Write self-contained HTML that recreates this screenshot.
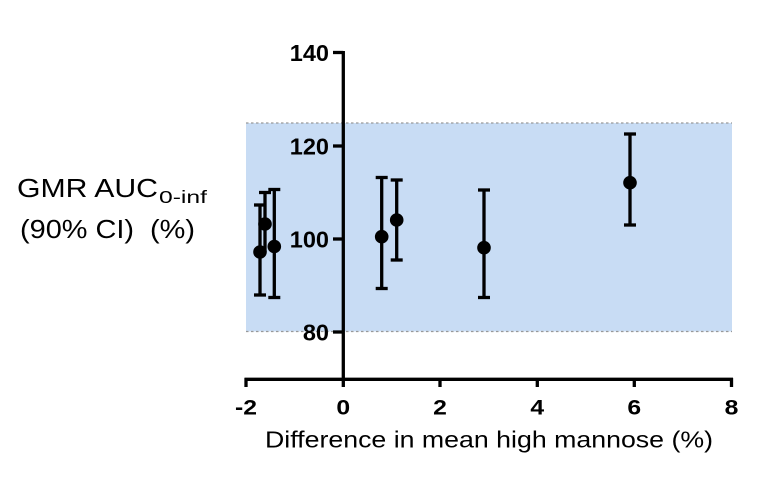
<!DOCTYPE html>
<html><head><meta charset="utf-8"><style>
html,body{margin:0;padding:0;background:#fff;}
svg{display:block;}
text{font-family:"Liberation Sans",Arial,sans-serif;fill:#000;}
</style></head><body>
<svg width="770" height="481" viewBox="0 0 770 481" xmlns="http://www.w3.org/2000/svg">
<rect x="0" y="0" width="770" height="481" fill="#fff"/>
<!-- band -->
<rect x="246" y="123" width="486" height="208.5" fill="#c8dcf4"/>
<line x1="246" y1="123" x2="732" y2="123" stroke="#999" stroke-width="1.3" stroke-dasharray="2.5,2.5"/>
<line x1="246" y1="331.5" x2="732" y2="331.5" stroke="#999" stroke-width="1.3" stroke-dasharray="2.5,2.5"/>
<!-- axes -->
<g stroke="#000" stroke-width="3.3" fill="none">
<line x1="343.3" y1="51" x2="343.3" y2="387"/>
<line x1="244.5" y1="379.3" x2="733" y2="379.3"/>
<!-- y ticks -->
<line x1="333" y1="52.5" x2="343.3" y2="52.5"/>
<line x1="333" y1="146" x2="343.3" y2="146"/>
<line x1="333" y1="239" x2="343.3" y2="239"/>
<line x1="333" y1="332" x2="343.3" y2="332"/>
<!-- x ticks -->
<line x1="246" y1="378" x2="246" y2="387"/>
<line x1="440" y1="378" x2="440" y2="387"/>
<line x1="537.3" y1="378" x2="537.3" y2="387"/>
<line x1="634.3" y1="378" x2="634.3" y2="387"/>
<line x1="731.5" y1="378" x2="731.5" y2="387"/>
</g>
<!-- y tick labels -->
<g font-size="23.5" font-weight="bold" text-anchor="end">
<text x="329" y="61">140</text>
<text x="329" y="154.5">120</text>
<text x="329" y="247.5">100</text>
<text x="329" y="340.5">80</text>
</g>
<!-- x tick labels -->
<g font-size="21.5" font-weight="bold" text-anchor="middle">
<text transform="translate(246,414.5) scale(1.15,1)">-2</text>
<text transform="translate(343.3,414.5) scale(1.15,1)">0</text>
<text transform="translate(440,414.5) scale(1.15,1)">2</text>
<text transform="translate(537.3,414.5) scale(1.15,1)">4</text>
<text transform="translate(634.3,414.5) scale(1.15,1)">6</text>
<text transform="translate(731.5,414.5) scale(1.15,1)">8</text>
</g>
<!-- axis titles -->
<text x="265" y="447.5" font-size="23" textLength="448" lengthAdjust="spacingAndGlyphs">Difference in mean high mannose (%)</text>
<text x="17" y="197" font-size="26" textLength="141" lengthAdjust="spacingAndGlyphs">GMR AUC</text>
<text x="159" y="203" font-size="17.5" textLength="48" lengthAdjust="spacingAndGlyphs">0-inf</text>
<text x="20" y="238" font-size="26" textLength="175" lengthAdjust="spacingAndGlyphs" xml:space="preserve">(90% CI)  (%)</text>
<!-- data -->
<g stroke="#000" stroke-width="3.3" fill="none">
<line x1="260" y1="205" x2="260" y2="295"/><line x1="254" y1="205" x2="266" y2="205"/><line x1="254" y1="295" x2="266" y2="295"/>
<line x1="265" y1="192.5" x2="265" y2="252"/><line x1="259" y1="192.5" x2="271" y2="192.5"/>
<line x1="274.3" y1="189.5" x2="274.3" y2="297.5"/><line x1="268.3" y1="189.5" x2="280.3" y2="189.5"/><line x1="268.3" y1="297.5" x2="280.3" y2="297.5"/>
<line x1="381.7" y1="177.5" x2="381.7" y2="288.5"/><line x1="375.7" y1="177.5" x2="387.7" y2="177.5"/><line x1="375.7" y1="288.5" x2="387.7" y2="288.5"/>
<line x1="396.7" y1="180" x2="396.7" y2="260"/><line x1="390.7" y1="180" x2="402.7" y2="180"/><line x1="390.7" y1="260" x2="402.7" y2="260"/>
<line x1="484" y1="190" x2="484" y2="297.5"/><line x1="478" y1="190" x2="490" y2="190"/><line x1="478" y1="297.5" x2="490" y2="297.5"/>
<line x1="630" y1="134" x2="630" y2="225"/><line x1="624" y1="134" x2="636" y2="134"/><line x1="624" y1="225" x2="636" y2="225"/>
</g>
<g fill="#000">
<circle cx="260" cy="252" r="6.8"/>
<circle cx="265" cy="224" r="6.8"/>
<circle cx="274.3" cy="246.5" r="6.8"/>
<circle cx="381.7" cy="236.7" r="6.8"/>
<circle cx="396.7" cy="220" r="6.8"/>
<circle cx="484" cy="247.7" r="6.8"/>
<circle cx="630" cy="182.7" r="6.8"/>
</g>
</svg>
</body></html>
